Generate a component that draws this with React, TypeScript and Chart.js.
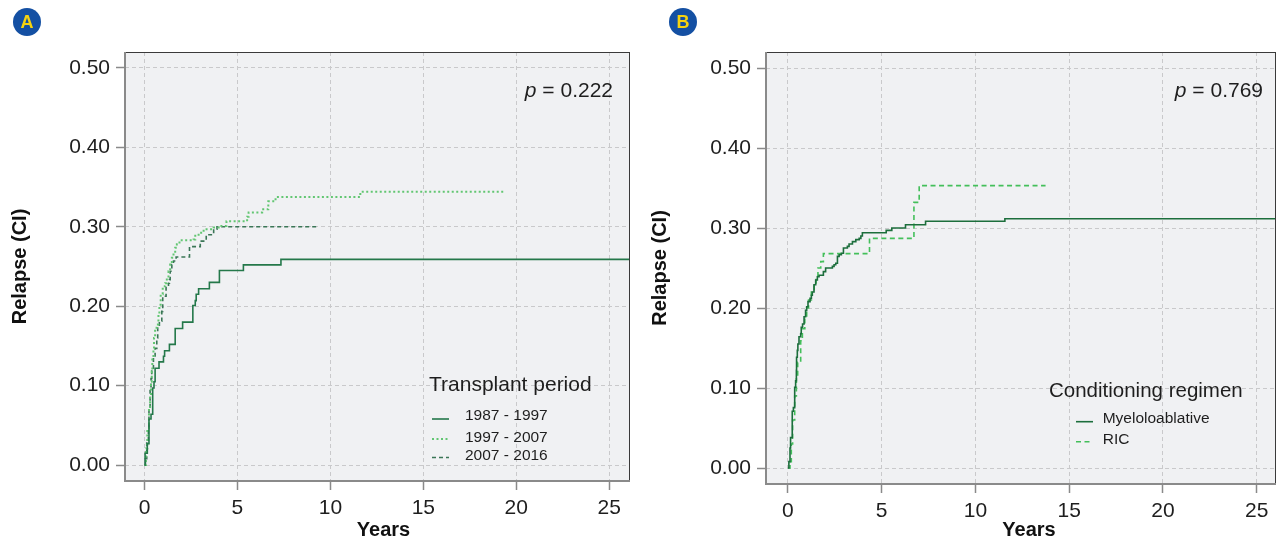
import React, { useEffect, useRef } from "react";
import { Chart, registerables } from "chart.js";

Chart.register(...registerables);

const FONT = '"Liberation Sans", Arial, Helvetica, sans-serif';

// ---------- shared axes ----------
const yearTicks = [0, 5, 10, 15, 20, 25];
const relapseTicks = [0, 0.1, 0.2, 0.3, 0.4, 0.5];
const xAxisTitle = "Years";
const yAxisTitle = "Relapse (CI)";

// ---------- Panel A : Transplant period ----------
const legendTitleA = "Transplant period";
const periodLabels = ["1987 - 1997", "1997 - 2007", "2007 - 2016"];
const pValueA = "0.222";

const p1987Times = [0, 0.03, 0.15, 0.24, 0.35, 0.44, 0.51, 0.57, 0.78, 1.02, 1.08, 1.34, 1.65, 2.05, 2.6, 2.73, 2.78, 2.91, 3.49, 4.03, 5.32, 7.34, 26.5];
const p1987Values = [0, 0.015, 0.027, 0.058, 0.064, 0.097, 0.105, 0.122, 0.13, 0.137, 0.144, 0.152, 0.172, 0.18, 0.201, 0.207, 0.215, 0.222, 0.23, 0.245, 0.252, 0.259, 0.259];

const p1997Times = [0, 0.08, 0.15, 0.24, 0.3, 0.35, 0.39, 0.42, 0.48, 0.51, 0.57, 0.66, 0.75, 0.8, 0.87, 0.98, 1.11, 1.2, 1.29, 1.38, 1.47, 1.56, 1.65, 1.74, 1.88, 2.64, 2.73, 2.91, 3.18, 3.72, 3.99, 4.41, 5.52, 5.6, 6.33, 6.66, 7.05, 11.61, 19.4];
const p1997Values = [0, 0.021, 0.046, 0.072, 0.088, 0.105, 0.118, 0.135, 0.147, 0.16, 0.173, 0.177, 0.189, 0.202, 0.215, 0.225, 0.229, 0.236, 0.244, 0.2525, 0.261, 0.267, 0.2735, 0.278, 0.283, 0.284, 0.29, 0.2925, 0.297, 0.299, 0.301, 0.307, 0.3127, 0.318, 0.322, 0.332, 0.3375, 0.344, 0.344];

const p2007Times = [0, 0.05, 0.12, 0.21, 0.24, 0.3, 0.35, 0.39, 0.48, 0.57, 0.66, 0.71, 0.8, 0.93, 0.98, 1.16, 1.29, 1.34, 1.38, 1.47, 1.56, 1.7, 2.42, 3.0, 3.32, 3.72, 3.9, 9.35];
const p2007Values = [0, 0.008, 0.029, 0.046, 0.072, 0.097, 0.109, 0.122, 0.135, 0.147, 0.16, 0.1725, 0.181, 0.1935, 0.2125, 0.225, 0.229, 0.2335, 0.244, 0.2525, 0.257, 0.262, 0.275, 0.282, 0.29, 0.297, 0.3, 0.3];

// ---------- Panel B : Conditioning regimen ----------
const legendTitleB = "Conditioning regimen";
const regimenLabels = ["Myeloloablative", "RIC"];
const pValueB = "0.769";

const maTimes = [0, 0.05, 0.11, 0.14, 0.23, 0.29, 0.36, 0.41, 0.45, 0.46, 0.5, 0.53, 0.59, 0.68, 0.71, 0.78, 0.86, 0.94, 1.0, 1.07, 1.18, 1.25, 1.3, 1.39, 1.48, 1.57, 1.66, 1.89, 2.01, 2.37, 2.46, 2.55, 2.64, 2.73, 2.85, 2.96, 3.17, 3.26, 3.44, 3.62, 3.8, 3.89, 3.97, 5.24, 5.54, 6.27, 7.34, 11.57, 26.5];
const maValues = [0, 0.008, 0.025, 0.038, 0.071, 0.0755, 0.101, 0.109, 0.122, 0.1385, 0.147, 0.155, 0.164, 0.168, 0.176, 0.18, 0.189, 0.197, 0.2015, 0.208, 0.212, 0.216, 0.22, 0.229, 0.235, 0.239, 0.241, 0.2455, 0.25, 0.252, 0.254, 0.256, 0.2645, 0.2665, 0.2685, 0.275, 0.277, 0.28, 0.283, 0.2855, 0.287, 0.29, 0.294, 0.297, 0.3, 0.304, 0.3085, 0.3115, 0.3115];

const ricTimes = [0, 0.11, 0.18, 0.25, 0.36, 0.45, 0.52, 0.68, 0.77, 0.9, 1.0, 1.1, 1.25, 1.4, 1.5, 1.6, 1.75, 1.89, 4.35, 6.72, 7.0, 13.74];
const ricValues = [0, 0.008, 0.03, 0.06, 0.09, 0.115, 0.132, 0.159, 0.174, 0.19, 0.2, 0.21, 0.22, 0.23, 0.24, 0.25, 0.258, 0.268, 0.287, 0.332, 0.353, 0.353];

// ---------- styling ----------
const PLOT_BG = "#f0f1f3";
const GRID = "#c9c9cb";
const TEXT = "#1e1e1e";

type Series = { label: string; times: number[]; values: number[]; color: string; width: number; dash: number[] };

type Spec = {
  canvasW: number;
  canvasH: number;
  left: number;
  yAxisW: number;
  xAxisH: number;
  padRight: number;
  xMin: number;
  xMax: number;
  pValue: string;
  pInset: number;
  xTitleShift: number;
  series: Series[];
  legend: {
    title: string;
    titleSize: number;
    titleX: number;
    titleY: number;
    lineX0: number;
    lineX1: number;
    lineYs: number[];
    textX: number;
    textYs: number[];
  };
};

const specA: Spec = {
  canvasW: 640,
  canvasH: 541,
  left: 0,
  yAxisW: 125,
  xAxisH: 60,
  padRight: 10,
  xMin: -1.05,
  xMax: 26.12,
  pValue: pValueA,
  pInset: 17,
  xTitleShift: 6,
  series: [
    { label: periodLabels[0], times: p1987Times, values: p1987Values, color: "#24784a", width: 1.6, dash: [] },
    { label: periodLabels[1], times: p1997Times, values: p1997Values, color: "#62c672", width: 2, dash: [2, 2.5] },
    { label: periodLabels[2], times: p2007Times, values: p2007Values, color: "#3a7656", width: 1.6, dash: [4, 3] },
  ],
  legend: {
    title: legendTitleA,
    titleSize: 21,
    titleX: 429,
    titleY: 385,
    lineX0: 432,
    lineX1: 449,
    lineYs: [419, 439, 457.5],
    textX: 465,
    textYs: [415.5, 437.5, 456],
  },
};

const specB: Spec = {
  canvasW: 642,
  canvasH: 541,
  left: 640,
  yAxisW: 126,
  xAxisH: 57,
  padRight: 6,
  xMin: -1.17,
  xMax: 26.03,
  pValue: pValueB,
  pInset: 13,
  xTitleShift: 8,
  series: [
    { label: regimenLabels[0], times: maTimes, values: maValues, color: "#1c6e3c", width: 1.6, dash: [] },
    { label: regimenLabels[1], times: ricTimes, values: ricValues, color: "#43bf5a", width: 1.6, dash: [5, 3.5] },
  ],
  legend: {
    title: legendTitleB,
    titleSize: 20.5,
    titleX: 409,
    titleY: 391,
    lineX0: 436,
    lineX1: 453,
    lineYs: [421.7, 441.7],
    textX: 462.7,
    textYs: [419.2, 439.8],
  },
};

function decorPlugin(spec: Spec) {
  return {
    id: "panelDecor",
    beforeDraw(chart: any) {
      const { ctx, chartArea: a } = chart;
      ctx.save();
      ctx.fillStyle = PLOT_BG;
      ctx.fillRect(a.left, a.top, a.right - a.left, a.bottom - a.top);
      ctx.restore();
    },
    afterDraw(chart: any) {
      const { ctx, chartArea: a } = chart;
      ctx.save();
      // frame
      ctx.setLineDash([]);
      ctx.strokeStyle = "#3a3a3a";
      ctx.lineWidth = 1;
      ctx.strokeRect(a.left + 0.5, a.top + 0.5, a.right - a.left - 1, a.bottom - a.top - 1);
      ctx.strokeStyle = "#8a8a8a";
      ctx.lineWidth = 2;
      ctx.beginPath();
      ctx.moveTo(a.left, a.top);
      ctx.lineTo(a.left, a.bottom);
      ctx.lineTo(a.right, a.bottom);
      ctx.stroke();

      // x axis title
      ctx.fillStyle = "#111";
      ctx.textBaseline = "middle";
      ctx.textAlign = "center";
      ctx.font = `bold 20px ${FONT}`;
      ctx.fillText(xAxisTitle, (a.left + a.right) / 2 + spec.xTitleShift, 530);

      // p value
      const py = a.top + 39;
      ctx.fillStyle = TEXT;
      ctx.font = `21px ${FONT}`;
      const rest = " = " + spec.pValue;
      const w = ctx.measureText(rest).width;
      const xr = a.right - spec.pInset;
      ctx.textAlign = "left";
      ctx.fillText(rest, xr - w, py);
      ctx.font = `italic 21px ${FONT}`;
      ctx.textAlign = "right";
      ctx.fillText("p", xr - w, py);

      // legend
      const L = spec.legend;
      ctx.textAlign = "left";
      ctx.font = `${L.titleSize}px ${FONT}`;
      ctx.fillText(L.title, L.titleX, L.titleY);
      ctx.font = `15.5px ${FONT}`;
      spec.series.forEach((s, i) => {
        ctx.strokeStyle = s.color;
        ctx.lineWidth = s.width;
        ctx.setLineDash(s.dash);
        ctx.beginPath();
        ctx.moveTo(L.lineX0, L.lineYs[i]);
        ctx.lineTo(L.lineX1, L.lineYs[i]);
        ctx.stroke();
        ctx.setLineDash([]);
        ctx.fillStyle = TEXT;
        ctx.fillText(s.label, L.textX, L.textYs[i]);
      });
      ctx.restore();
    },
  };
}

function Panel({ spec }: { spec: Spec }) {
  const ref = useRef<HTMLCanvasElement | null>(null);
  useEffect(() => {
    if (!ref.current) return;
    const chart = new Chart(ref.current, {
      type: "line",
      data: {
        datasets: spec.series.map((s) => ({
          label: s.label,
          data: s.times.map((t, i) => ({ x: t, y: s.values[i] })),
          borderColor: s.color,
          borderWidth: s.width,
          borderDash: s.dash,
          stepped: "before" as const,
          pointRadius: 0,
          fill: false,
          tension: 0,
        })),
      },
      options: {
        animation: false,
        responsive: false,
        maintainAspectRatio: false,
        devicePixelRatio: 1,
        events: [],
        layout: { padding: { top: 52, right: spec.padRight, left: 0, bottom: 0 } },
        plugins: { legend: { display: false }, tooltip: { enabled: false } },
        scales: {
          x: {
            type: "linear",
            min: spec.xMin,
            max: spec.xMax,
            afterBuildTicks: (s: any) => {
              s.ticks = yearTicks.map((v) => ({ value: v }));
            },
            afterFit: (s: any) => {
              s.height = spec.xAxisH;
            },
            ticks: {
              autoSkip: false,
              maxRotation: 0,
              padding: 6,
              color: TEXT,
              font: { family: FONT, size: 21 },
              callback: (v: any) => String(v),
            },
            grid: { color: GRID, lineWidth: 1, tickLength: 9, tickColor: "#8a8a8a", tickWidth: 1.5 },
            border: { display: false, dash: [4, 3] },
            title: { display: false },
          },
          y: {
            type: "linear",
            min: -0.02,
            max: 0.52,
            afterBuildTicks: (s: any) => {
              s.ticks = relapseTicks.map((v) => ({ value: v }));
            },
            afterFit: (s: any) => {
              s.width = spec.yAxisW;
            },
            ticks: {
              padding: 6,
              color: TEXT,
              font: { family: FONT, size: 21 },
              callback: (v: any) => Number(v).toFixed(2),
            },
            grid: { color: GRID, lineWidth: 1, tickLength: 9, tickColor: "#8a8a8a", tickWidth: 1.5 },
            border: { display: false, dash: [4, 3] },
            title: {
              display: true,
              text: yAxisTitle,
              color: "#111",
              font: { family: FONT, size: 20, weight: "bold" },
              padding: { top: 8, bottom: 0 },
            },
          },
        },
      } as any,
      plugins: [decorPlugin(spec)],
    });
    return () => chart.destroy();
  }, [spec]);
  return (
    <canvas
      ref={ref}
      width={spec.canvasW}
      height={spec.canvasH}
      style={{ position: "absolute", left: spec.left, top: 0, width: spec.canvasW, height: spec.canvasH }}
    />
  );
}

function Badge({ letter, cx, cy }: { letter: string; cx: number; cy: number }) {
  return (
    <div
      style={{
        position: "absolute",
        left: cx - 14,
        top: cy - 14,
        width: 28,
        height: 28,
        borderRadius: "50%",
        background: "#1450a3",
        color: "#f6d30f",
        display: "flex",
        alignItems: "center",
        justifyContent: "center",
        fontFamily: FONT,
        fontWeight: "bold",
        fontSize: 18,
        lineHeight: 1,
        zIndex: 2,
      }}
    >
      {letter}
    </div>
  );
}

export default function App() {
  return (
    <div style={{ position: "absolute", left: 0, top: 0, width: 1282, height: 541, background: "#fff", overflow: "hidden" }}>
      <Panel spec={specA} />
      <Panel spec={specB} />
      <Badge letter="A" cx={27} cy={21.5} />
      <Badge letter="B" cx={683} cy={21.5} />
    </div>
  );
}
